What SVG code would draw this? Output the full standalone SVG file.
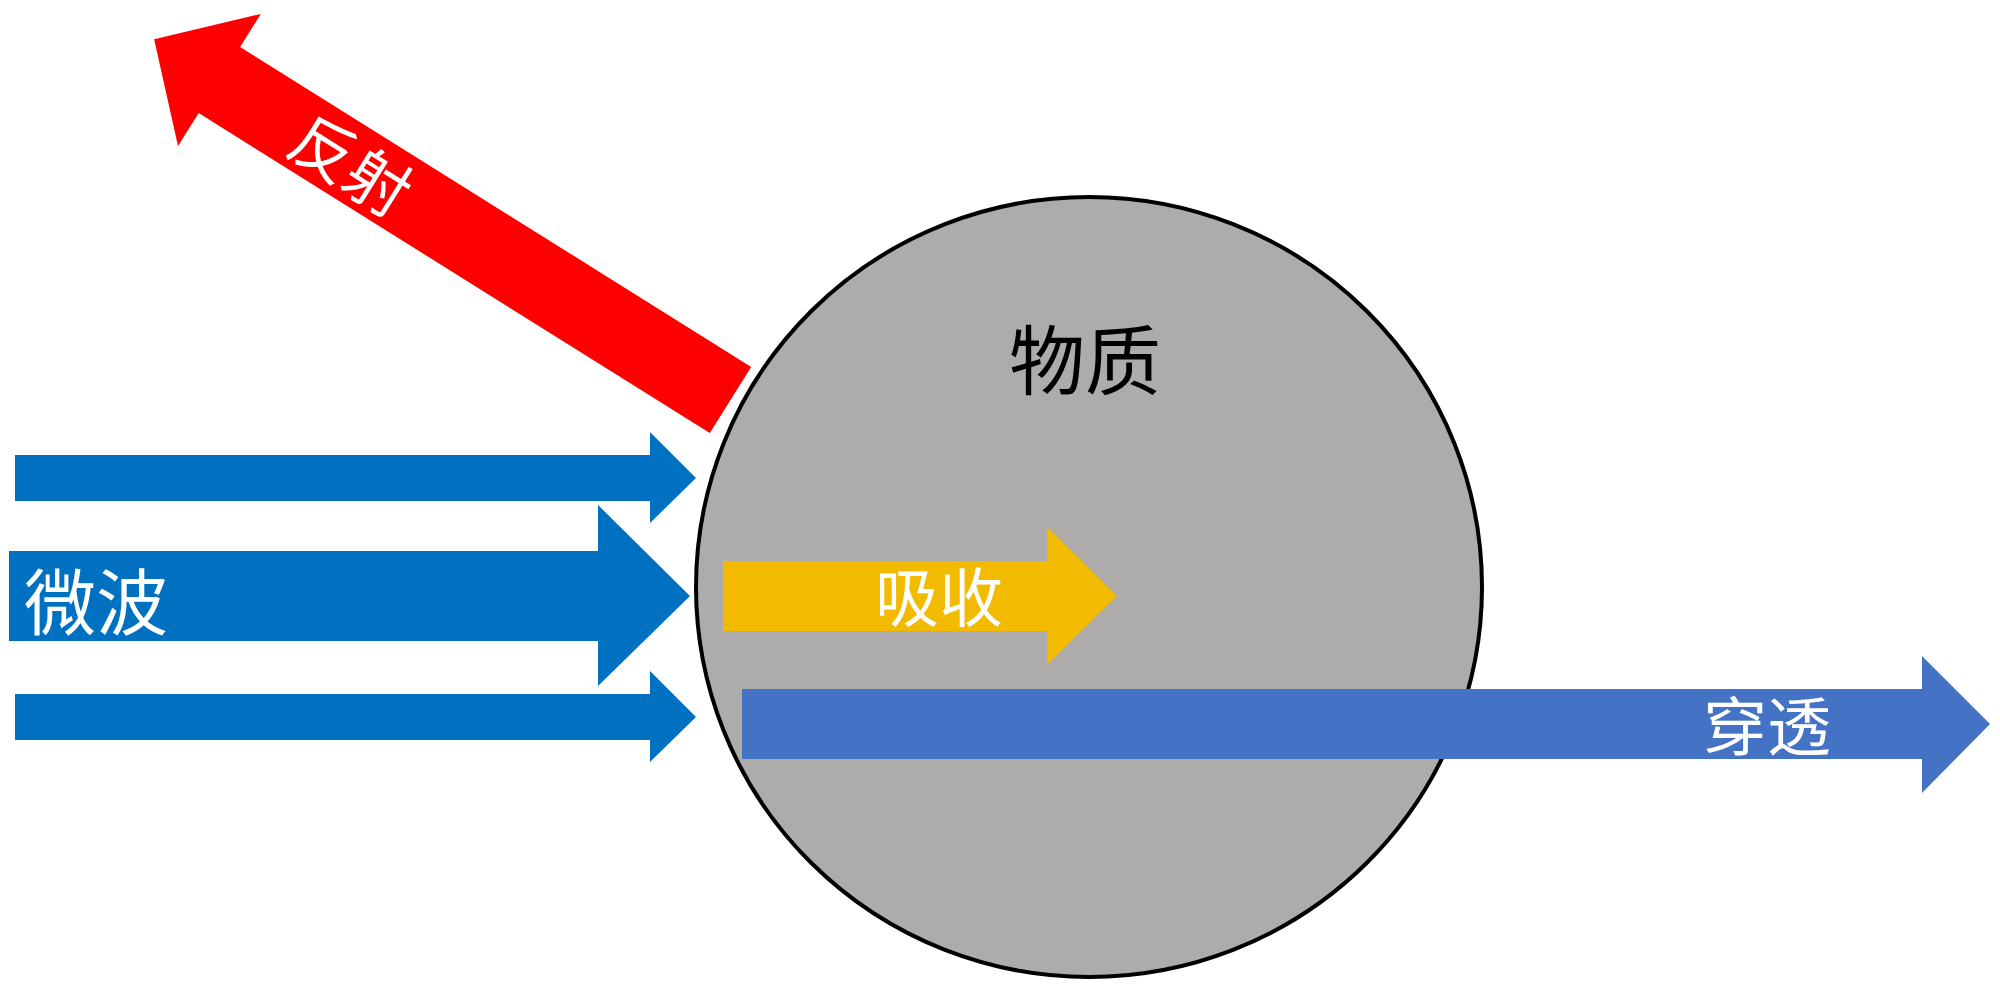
<svg xmlns="http://www.w3.org/2000/svg" width="2000" height="987" viewBox="0 0 2000 987">
<style>
.lbl{font-family:"Noto Sans CJK SC","Noto Sans",sans-serif;text-anchor:middle;dominant-baseline:central}
.w{fill:#FFFFFF}
.k{fill:#000000}
</style>
<rect width="2000" height="987" fill="#FFFFFF"/>
<g id="matter">
<ellipse cx="1089" cy="587" rx="393" ry="390" fill="#AEABAB" stroke="#000000" stroke-width="4"/>
<text class="lbl k" x="1085" y="356" font-size="76">物质</text>
</g>
<g id="connectors">
<g id="reflect">
<path d="M0,-39 L603,-39 L603,-78 L680,0 L603,78 L603,39 L0,39 Z" fill="#FF0000" transform="translate(730.5,400) rotate(212.05)"/>
<text class="lbl w" font-size="64" transform="translate(353,162) rotate(32.05)">反射</text>
</g>
<g id="microwave">
<path d="M15,455 L650,455 L650,432 L696,478 L650,523 L650,501 L15,501 Z" fill="#0070C0"/>
<path d="M9,551 L598,551 L598,505 L690,596 L598,686 L598,641 L9,641 Z" fill="#0070C0"/>
<path d="M15,694 L650,694 L650,671 L696,717 L650,762 L650,740 L15,740 Z" fill="#0070C0"/>
<text class="lbl w" x="96" y="597" font-size="72">微波</text>
</g>
<g id="absorb">
<path d="M723,561 L1047,561 L1047,527 L1117,596 L1047,665 L1047,631 L723,631 Z" fill="#F2BA00"/>
<text class="lbl w" x="939" y="593" font-size="64">吸收</text>
</g>
<g id="penetrate">
<path d="M742,689 L1922,689 L1922,656 L1990,724 L1922,793 L1922,759 L742,759 Z" fill="#4472C4"/>
<text class="lbl w" x="1767" y="722" font-size="64">穿透</text>
</g>
</g>
</svg>
